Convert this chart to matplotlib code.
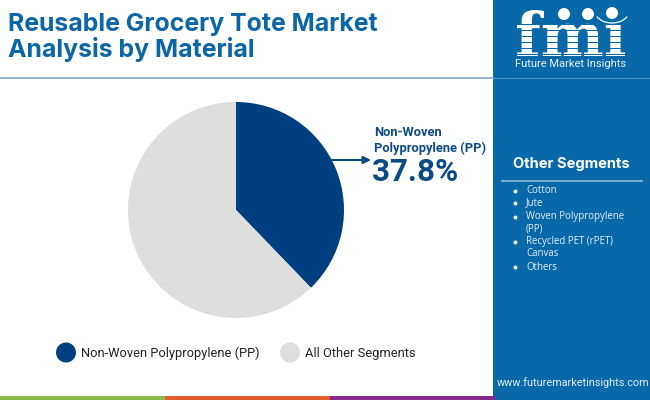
import matplotlib
matplotlib.use("Agg")
import matplotlib.pyplot as plt
from matplotlib.patches import Rectangle, Circle, Ellipse, PathPatch, Arc
from matplotlib.textpath import TextPath
from matplotlib.font_manager import FontProperties
from matplotlib.transforms import Affine2D

plt.rcParams['font.family'] = ['Roboto', 'DejaVu Sans']

title_lines = ["Reusable Grocery Tote Market", "Analysis by Material"]
slices = ["Non-Woven Polypropylene (PP)", "All Other Segments"]
values = [37.8, 62.2]
colors = ["#003F7F", "#DEDEDE"]
callout = ["Non-Woven", "Polypropylene (PP)"]
callout_value = "37.8%"
others_title = "Other Segments"
others = [("Cotton",), ("Jute",), ("Woven Polypropylene", "(PP)"),
          ("Recycled PET (rPET)", "Canvas"), ("Others",)]
footer_colors = ["#8CBB45", "#E2602A", "#85298A"]
site = "www.futuremarketinsights.com"
brand = "Future Market Insights"

W, H = 650, 400
fig = plt.figure(figsize=(W/100, H/100), dpi=100, facecolor="white")
bg = fig.add_axes([0, 0, 1, 1])
bg.set_xlim(0, W); bg.set_ylim(H, 0); bg.axis("off")

NAVY = "#0B4A86"
PANEL = "#0868A8"
TITLE = "#0A66A6"

# right panel
bg.add_patch(Rectangle((493, 0), 157, 400, fc=PANEL, ec="none"))
# header rule
bg.plot([0, 493], [78, 78], color="#8AAFCF", lw=1.3)
bg.plot([493, 650], [77.5, 77.5], color="#4C8FC0", lw=0.8)
# footer
for i, c in enumerate(footer_colors):
    bg.add_patch(Rectangle((i*165, 395.5), 165, 4.5, fc=c, ec="none"))

# title
for i, line in enumerate(title_lines):
    bg.text(8, 24 + i*26, line, fontsize=17.9, fontweight="bold", color=TITLE,
            va="center", ha="left", family=["Inter", "DejaVu Sans"])

# pie
pie_ax = fig.add_axes([128/W, 1-318/H, 216/W, 216/H])
pie_ax.pie(values, colors=colors, startangle=90, counterclock=False, radius=1.0)
pie_ax.set_xlim(-1, 1); pie_ax.set_ylim(-1, 1); pie_ax.set_aspect("equal")

# callout
bg.annotate("", xy=(371, 160), xytext=(332, 160),
            arrowprops=dict(arrowstyle="-|>", color=NAVY, lw=1.5, mutation_scale=11,
                            shrinkA=0, shrinkB=0))
bg.text(374, 133, callout[0], fontsize=9.3, fontweight="bold", color=NAVY, va="center")
bg.text(374, 148, callout[1], fontsize=9.3, fontweight="bold", color=NAVY, va="center")
bg.text(372, 172, callout_value, fontsize=22.6, fontweight="bold", color=NAVY, va="center")

# legend
bg.add_patch(Ellipse((66, 352.5), 20, 20, fc=colors[0], ec="none"))
bg.text(81, 353, slices[0], fontsize=9.3, color="#222222", va="center")
bg.add_patch(Ellipse((290, 352.5), 20, 20, fc=colors[1], ec="none"))
bg.text(305, 353, slices[1], fontsize=9.3, color="#222222", va="center")

# other segments
bg.text(571.5, 164, others_title, fontsize=10.6, fontweight="bold", color="white",
        ha="center", va="center", family=["Inter", "DejaVu Sans"])
bg.plot([502, 642], [181, 181], color="#8DBBDC", lw=1.2)
item_ys = [[190.5], [203], [217, 229], [241.5, 254], [267]]
for item, ys in zip(others, item_ys):
    bg.plot([514.5], [ys[0]], marker="o", ms=1.8, color="white")
    for line, y in zip(item, ys):
        bg.text(526, y, line, fontsize=6.9, color="#E4EFF7", va="center",
                family=["Open Sans", "DejaVu Sans"])

# logo drawn as a shape: letterforms fitted to the box, then striped
tp = TextPath((0, 0), "fm\u0131", size=10, prop=FontProperties(family="DejaVu Serif", weight="bold"))
ext = tp.get_extents()
x0, x1, y0, y1 = 517, 625, 10, 56
tr = (Affine2D().translate(-ext.x0, -ext.y0)
      .scale((x1-x0)/ext.width, -(y1-y0)/ext.height).translate(x0, y1))
bg.add_patch(PathPatch(tr.transform_path(tp), fc="white", ec="none"))
for yy in range(24, 56, 6):
    bg.add_patch(Rectangle((514, yy), 114, 1.1, fc=PANEL, ec="none"))
for x, yy in ((564, 14), (588, 14), (612, 13)):
    bg.add_patch(Circle((x, yy), 8, fc=PANEL, ec="none"))
    bg.add_patch(Circle((x, yy), 6, fc="white", ec="none"))
bg.add_patch(Arc((612, 11), 34, 24, theta1=20, theta2=160, color="white", lw=0.9))
bg.text(571, 64, brand, fontsize=8, color="#E8F2FA", ha="center", va="center")

# url
bg.text(573.5, 383, site, fontsize=7.8, color="#E4EFF7", ha="center", va="center")

fig.savefig("out.png", dpi=100, facecolor="white")
